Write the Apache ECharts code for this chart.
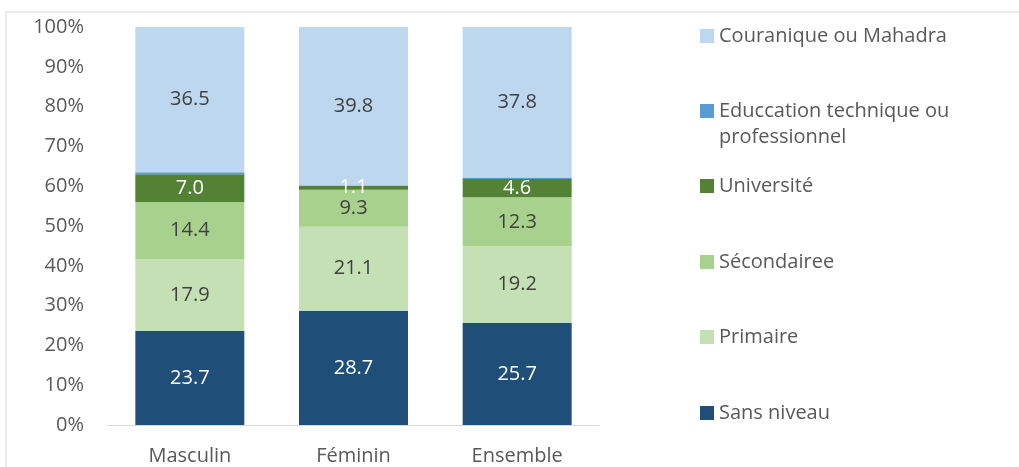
<!DOCTYPE html>
<html>
<head>
<meta charset="utf-8">
<script src="https://cdn.jsdelivr.net/npm/echarts@6/dist/echarts.min.js"></script>
<style>
  html, body { margin: 0; padding: 0; background: #fff; }
  #chart { width: 1019px; height: 467px; }
</style>
</head>
<body>
<div id="chart"></div>
<script>
// categories and series values (%)
var categories = ["Masculin", "Féminin", "Ensemble"];
var sansNiveau = [23.7, 28.7, 25.7];
var primaire = [17.9, 21.1, 19.2];
var secondaire = [14.4, 9.3, 12.3];
var universite = [7.0, 1.1, 4.6];
var technique = [0.5, 0.0, 0.4];
var coranique = [36.5, 39.8, 37.8];
var yTicks = [0, 10, 20, 30, 40, 50, 60, 70, 80, 90, 100];

var font = "'Open Sans', sans-serif";
var grey = "#595959";

function bar(name, data, color, labelColor) {
  return {
    name: name,
    type: "bar",
    stack: "total",
    data: data,
    barWidth: 109,
    itemStyle: { color: color },
    label: {
      show: labelColor != null,
      position: "inside",
      color: labelColor,
      fontFamily: font,
      fontSize: 20,
      formatter: function (p) { return p.value.toFixed(1); }
    }
  };
}

// one legend per entry so each row sits where it does in the picture
function legendAt(name, center) {
  return {
    data: [name],
    left: 700,
    top: center - 15,
    padding: 0,
    orient: "vertical",
    icon: "rect",
    itemWidth: 14,
    itemHeight: 14,
    itemGap: 0,
    selectedMode: false,
    formatter: function (n) { return n.split("\n")[0]; },
    textStyle: { fontFamily: font, fontSize: 20, color: grey, lineHeight: 30 }
  };
}

var techName = "Educcation technique ou\nprofessionnel";

var chart = echarts.init(document.getElementById("chart"));
chart.setOption({
  animation: false,
  grid: { left: 108, right: 420, top: 27, bottom: 42 },
  graphic: [
    { type: "rect", shape: { x: 6, y: 12, width: 1100, height: 600 },
      style: { fill: null, stroke: "#D9D9D9", lineWidth: 1 } },
    { type: "text", left: 719, top: 127,
      style: { text: "professionnel", font: "20px " + font, fill: grey } }
  ],
  legend: [
    legendAt("Couranique ou Mahadra", 36),
    legendAt(techName, 111),
    legendAt("Université", 186),
    legendAt("Sécondairee", 262),
    legendAt("Primaire", 337),
    legendAt("Sans niveau", 413)
  ],
  xAxis: {
    type: "category",
    data: categories,
    axisTick: { show: false },
    axisLine: { lineStyle: { color: "#D9D9D9", width: 1 } },
    axisLabel: { fontFamily: font, fontSize: 20, color: grey, margin: 21 }
  },
  yAxis: {
    type: "value",
    min: yTicks[0],
    max: yTicks[yTicks.length - 1],
    interval: 10,
    splitLine: { show: false },
    axisLine: { show: false },
    axisTick: { show: false },
    axisLabel: {
      fontFamily: font, fontSize: 20, color: grey, margin: 24,
      formatter: function (v) { return v + "%"; }
    }
  },
  series: [
    bar("Sans niveau", sansNiveau, "#1F4E79", "#FFFFFF"),
    bar("Primaire", primaire, "#C5E0B4", "#404040"),
    bar("Sécondairee", secondaire, "#A9D18E", "#404040"),
    bar("Université", universite, "#548235", "#FFFFFF"),
    bar(techName, technique, "#5B9BD5", null),
    bar("Couranique ou Mahadra", coranique, "#BDD7EE", "#404040")
  ]
});
</script>
</body>
</html>
